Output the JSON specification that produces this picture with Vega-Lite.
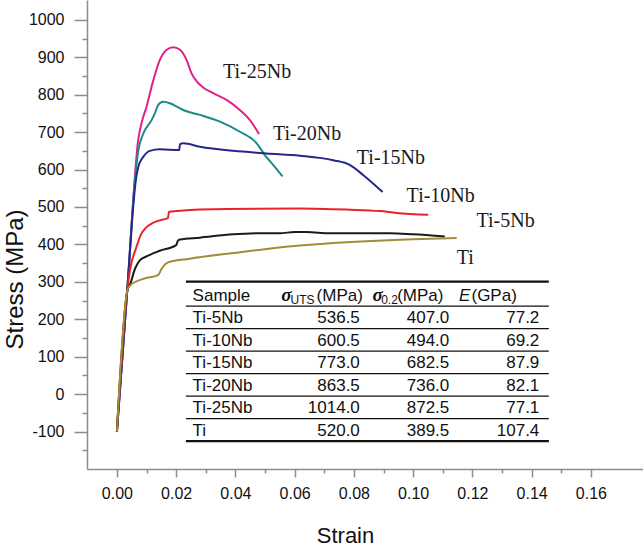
{
  "$schema": "https://vega.github.io/schema/vega-lite/v6.json",
  "width": 556,
  "height": 469,
  "autosize": {"type": "none"},
  "padding": {"left": 87, "top": 0, "right": 0, "bottom": 77},
  "background": "white",
  "config": {"view": {"stroke": null}, "font": "Liberation Sans"},
  "datasets": {
    "curves": [
      {"sample":"Ti-25Nb","strain":0,"stress":-100},{"sample":"Ti-25Nb","strain":0.0036,"stress":290},{"sample":"Ti-25Nb","strain":0.0072,"stress":680},{"sample":"Ti-25Nb","strain":0.0085,"stress":730},{"sample":"Ti-25Nb","strain":0.0100,"stress":768},{"sample":"Ti-25Nb","strain":0.0123,"stress":839},{"sample":"Ti-25Nb","strain":0.0145,"stress":893},{"sample":"Ti-25Nb","strain":0.0168,"stress":920},{"sample":"Ti-25Nb","strain":0.0190,"stress":927},{"sample":"Ti-25Nb","strain":0.0213,"stress":920},{"sample":"Ti-25Nb","strain":0.0235,"stress":893},{"sample":"Ti-25Nb","strain":0.0252,"stress":857},{"sample":"Ti-25Nb","strain":0.0270,"stress":835},{"sample":"Ti-25Nb","strain":0.0290,"stress":820},{"sample":"Ti-25Nb","strain":0.0325,"stress":804},{"sample":"Ti-25Nb","strain":0.0370,"stress":786},{"sample":"Ti-25Nb","strain":0.0415,"stress":759},{"sample":"Ti-25Nb","strain":0.0449,"stress":732},{"sample":"Ti-25Nb","strain":0.0480,"stress":695},
      {"sample":"Ti-20Nb","strain":0,"stress":-100},{"sample":"Ti-20Nb","strain":0.0036,"stress":290},{"sample":"Ti-20Nb","strain":0.0060,"stress":565},{"sample":"Ti-20Nb","strain":0.0072,"stress":650},{"sample":"Ti-20Nb","strain":0.0089,"stress":696},{"sample":"Ti-20Nb","strain":0.0117,"stress":732},{"sample":"Ti-20Nb","strain":0.0128,"stress":750},{"sample":"Ti-20Nb","strain":0.0139,"stress":772},{"sample":"Ti-20Nb","strain":0.0156,"stress":781},{"sample":"Ti-20Nb","strain":0.0179,"stress":777},{"sample":"Ti-20Nb","strain":0.0202,"stress":768},{"sample":"Ti-20Nb","strain":0.0230,"stress":757},{"sample":"Ti-20Nb","strain":0.0280,"stress":746},{"sample":"Ti-20Nb","strain":0.0348,"stress":728},{"sample":"Ti-20Nb","strain":0.0415,"stress":701},{"sample":"Ti-20Nb","strain":0.0472,"stress":670},{"sample":"Ti-20Nb","strain":0.0500,"stress":638},{"sample":"Ti-20Nb","strain":0.0528,"stress":612},{"sample":"Ti-20Nb","strain":0.0559,"stress":582},
      {"sample":"Ti-15Nb","strain":0,"stress":-100},{"sample":"Ti-15Nb","strain":0.0036,"stress":290},{"sample":"Ti-15Nb","strain":0.0055,"stress":500},{"sample":"Ti-15Nb","strain":0.0062,"stress":560},{"sample":"Ti-15Nb","strain":0.0072,"stress":607},{"sample":"Ti-15Nb","strain":0.0089,"stress":634},{"sample":"Ti-15Nb","strain":0.0111,"stress":650},{"sample":"Ti-15Nb","strain":0.0145,"stress":654},{"sample":"Ti-15Nb","strain":0.0210,"stress":652},{"sample":"Ti-15Nb","strain":0.0213,"stress":668},{"sample":"Ti-15Nb","strain":0.0224,"stress":670},{"sample":"Ti-15Nb","strain":0.0280,"stress":661},{"sample":"Ti-15Nb","strain":0.0393,"stress":650},{"sample":"Ti-15Nb","strain":0.0505,"stress":643},{"sample":"Ti-15Nb","strain":0.0618,"stress":637},{"sample":"Ti-15Nb","strain":0.0730,"stress":625},{"sample":"Ti-15Nb","strain":0.0787,"stress":612},{"sample":"Ti-15Nb","strain":0.0832,"stress":585},{"sample":"Ti-15Nb","strain":0.0897,"stress":540},
      {"sample":"Ti-10Nb","strain":0,"stress":-100},{"sample":"Ti-10Nb","strain":0.0036,"stress":285},{"sample":"Ti-10Nb","strain":0.0044,"stress":331},{"sample":"Ti-10Nb","strain":0.0066,"stress":393},{"sample":"Ti-10Nb","strain":0.0080,"stress":425},{"sample":"Ti-10Nb","strain":0.0095,"stress":442},{"sample":"Ti-10Nb","strain":0.0123,"stress":458},{"sample":"Ti-10Nb","strain":0.0168,"stress":469},{"sample":"Ti-10Nb","strain":0.0172,"stress":470},{"sample":"Ti-10Nb","strain":0.0176,"stress":487},{"sample":"Ti-10Nb","strain":0.0202,"stress":489},{"sample":"Ti-10Nb","strain":0.0280,"stress":493},{"sample":"Ti-10Nb","strain":0.0618,"stress":496},{"sample":"Ti-10Nb","strain":0.0775,"stress":493},{"sample":"Ti-10Nb","strain":0.0888,"stress":489},{"sample":"Ti-10Nb","strain":0.0944,"stress":484},{"sample":"Ti-10Nb","strain":0.1051,"stress":479},
      {"sample":"Ti-5Nb","strain":0,"stress":-100},{"sample":"Ti-5Nb","strain":0.0036,"stress":280},{"sample":"Ti-5Nb","strain":0.0044,"stress":292},{"sample":"Ti-5Nb","strain":0.0061,"stress":335},{"sample":"Ti-5Nb","strain":0.0078,"stress":358},{"sample":"Ti-5Nb","strain":0.0100,"stress":368},{"sample":"Ti-5Nb","strain":0.0145,"stress":383},{"sample":"Ti-5Nb","strain":0.0200,"stress":398},{"sample":"Ti-5Nb","strain":0.0206,"stress":410},{"sample":"Ti-5Nb","strain":0.0213,"stress":413},{"sample":"Ti-5Nb","strain":0.0280,"stress":418},{"sample":"Ti-5Nb","strain":0.0393,"stress":427},{"sample":"Ti-5Nb","strain":0.0505,"stress":430},{"sample":"Ti-5Nb","strain":0.0550,"stress":430},{"sample":"Ti-5Nb","strain":0.0600,"stress":433},{"sample":"Ti-5Nb","strain":0.0640,"stress":433},{"sample":"Ti-5Nb","strain":0.0719,"stress":430},{"sample":"Ti-5Nb","strain":0.0922,"stress":430},{"sample":"Ti-5Nb","strain":0.1000,"stress":427},{"sample":"Ti-5Nb","strain":0.1107,"stress":421},
      {"sample":"Ti","strain":0,"stress":-100},{"sample":"Ti","strain":0.0036,"stress":280},{"sample":"Ti","strain":0.0044,"stress":290},{"sample":"Ti","strain":0.0089,"stress":308},{"sample":"Ti","strain":0.0139,"stress":318},{"sample":"Ti","strain":0.0151,"stress":335},{"sample":"Ti","strain":0.0173,"stress":352},{"sample":"Ti","strain":0.0246,"stress":362},{"sample":"Ti","strain":0.0393,"stress":377},{"sample":"Ti","strain":0.0505,"stress":388},{"sample":"Ti","strain":0.0618,"stress":397},{"sample":"Ti","strain":0.0775,"stress":406},{"sample":"Ti","strain":0.1000,"stress":414},{"sample":"Ti","strain":0.1147,"stress":417}
    ],
    "labels": [
      {"sample":"Ti-25Nb","strain":0.0358,"stress":845},
      {"sample":"Ti-20Nb","strain":0.0527,"stress":678},
      {"sample":"Ti-15Nb","strain":0.0810,"stress":614},
      {"sample":"Ti-10Nb","strain":0.0978,"stress":514},
      {"sample":"Ti-5Nb","strain":0.1214,"stress":446},
      {"sample":"Ti","strain":0.1147,"stress":348}
    ],
    "table": [
      {"Sample":"Ti-5Nb","UTS":536.5,"YS":407.0,"E":77.2},
      {"Sample":"Ti-10Nb","UTS":600.5,"YS":494.0,"E":69.2},
      {"Sample":"Ti-15Nb","UTS":773.0,"YS":682.5,"E":87.9},
      {"Sample":"Ti-20Nb","UTS":863.5,"YS":736.0,"E":82.1},
      {"Sample":"Ti-25Nb","UTS":1014.0,"YS":872.5,"E":77.1},
      {"Sample":"Ti","UTS":520.0,"YS":389.5,"E":107.4}
    ]
  },
  "layer": [
    {
      "encoding": {
        "x": {
          "field": "strain", "type": "quantitative",
          "scale": {"domain": [-0.0101, 0.1776], "nice": false, "zero": false},
          "axis": {
            "values": [0,0.01,0.02,0.03,0.04,0.05,0.06,0.07,0.08,0.09,0.1,0.11,0.12,0.13,0.14,0.15,0.16],
            "format": ".2f",
            "labelExpr": "round(datum.value*100) % 2 === 0 ? datum.label : ''",
            "tickSize": {"condition": {"test": "round(datum.value*100) % 2 === 0", "value": 8}, "value": 4},
            "grid": false,
            "domainColor": "#8c8c8c", "tickColor": "#8c8c8c", "domainWidth": 1.5, "tickWidth": 1.5,
            "labelFont": "Liberation Sans", "labelFontSize": 16, "labelColor": "#111", "labelPadding": 8,
            "title": "Strain", "titleFont": "Liberation Sans", "titleFontSize": 22, "titleFontWeight": "normal", "titleColor": "#111",
            "titleX": 258, "titleY": 73, "titleBaseline": "alphabetic", "titleAlign": "center"
          }
        },
        "y": {
          "field": "stress", "type": "quantitative",
          "scale": {"domain": [-200, 1053], "nice": false, "zero": false},
          "axis": {
            "values": [-150,-100,-50,0,50,100,150,200,250,300,350,400,450,500,550,600,650,700,750,800,850,900,950,1000],
            "labelExpr": "datum.value % 100 === 0 ? toString(datum.value) : ''",
            "tickSize": {"condition": {"test": "datum.value % 100 === 0", "value": 13}, "value": 5},
            "grid": false,
            "domainColor": "#8c8c8c", "tickColor": "#8c8c8c", "domainWidth": 1.5, "tickWidth": 1.5,
            "labelFont": "Liberation Sans", "labelFontSize": 16, "labelColor": "#111", "labelPadding": 10,
            "title": "Stress (MPa)", "titleFont": "Liberation Sans", "titleFontSize": 24, "titleFontWeight": "normal", "titleColor": "#111",
            "titleX": -64.5, "titleY": 279, "titleBaseline": "alphabetic", "titleAlign": "center", "titleAngle": -90
          }
        }
      },
      "layer": [
        {
          "data": {"name": "curves"},
          "mark": {"type": "line", "strokeWidth": 2, "interpolate": "monotone"},
          "encoding": {
            "color": {
              "field": "sample", "type": "nominal", "legend": null,
              "scale": {"domain": ["Ti","Ti-5Nb","Ti-10Nb","Ti-15Nb","Ti-20Nb","Ti-25Nb"], "range": ["#a38b3a","#1a1a1a","#e8242a","#26268c","#1b8a8a","#e0218a"]}
            }
          }
        },
        {
          "data": {"name": "labels"},
          "mark": {"type": "text", "align": "left", "baseline": "alphabetic", "font": "Liberation Serif", "fontSize": 20, "color": "#1a1a1a"},
          "encoding": {"text": {"field": "sample"}}
        }
      ]
    },
    {
      "data": {"name": "table"},
      "encoding": {
        "y": {
          "field": "Sample", "type": "nominal", "axis": null,
          "scale": {"type": "point", "domain": ["Sample","Ti-5Nb","Ti-10Nb","Ti-15Nb","Ti-20Nb","Ti-25Nb","Ti"], "padding": 0, "range": [300.7, 435.7]}
        }
      },
      "layer": [
        {
          "mark": {"type": "rule", "strokeWidth": 1.3, "color": "#111", "yOffset": 5.5},
          "encoding": {"x": {"datum": 0.0233, "type": "quantitative", "axis": null, "scale": {"domain": [-0.0101, 0.1776], "nice": false, "zero": false}}, "x2": {"datum": 0.1458}}
        },
        {
          "data": {"values": [{}]},
          "mark": {"type": "rule", "strokeWidth": 1.3, "color": "#111", "yOffset": 5.5},
          "encoding": {"x": {"datum": 0.0233, "type": "quantitative", "axis": null, "scale": {"domain": [-0.0101, 0.1776], "nice": false, "zero": false}}, "x2": {"datum": 0.1458}, "y": {"datum": "Sample", "type": "nominal"}}
        },
        {
          "data": {"values": [{}]},
          "mark": {"type": "rule", "strokeWidth": 2.2, "color": "#111", "yOffset": -19},
          "encoding": {"x": {"datum": 0.0233, "type": "quantitative", "axis": null, "scale": {"domain": [-0.0101, 0.1776], "nice": false, "zero": false}}, "x2": {"datum": 0.1458}, "y": {"datum": "Sample", "type": "nominal"}}
        },
        {
          "data": {"values": [{}]},
          "mark": {"type": "rule", "strokeWidth": 2.2, "color": "#111", "yOffset": 5.5},
          "encoding": {"x": {"datum": 0.0233, "type": "quantitative", "axis": null, "scale": {"domain": [-0.0101, 0.1776], "nice": false, "zero": false}}, "x2": {"datum": 0.1458}, "y": {"datum": "Ti", "type": "nominal"}}
        },
        {
          "mark": {"type": "text", "align": "left", "baseline": "alphabetic", "font": "Liberation Sans", "fontSize": 17, "color": "#111"},
          "encoding": {"x": {"datum": 0.02555, "type": "quantitative", "axis": null, "scale": {"domain": [-0.0101, 0.1776], "nice": false, "zero": false}}, "text": {"field": "Sample"}}
        },
        {
          "mark": {"type": "text", "align": "right", "baseline": "alphabetic", "font": "Liberation Sans", "fontSize": 17, "color": "#111"},
          "encoding": {"x": {"datum": 0.0820, "type": "quantitative", "axis": null, "scale": {"domain": [-0.0101, 0.1776], "nice": false, "zero": false}}, "text": {"field": "UTS", "format": ".1f"}}
        },
        {
          "mark": {"type": "text", "align": "right", "baseline": "alphabetic", "font": "Liberation Sans", "fontSize": 17, "color": "#111"},
          "encoding": {"x": {"datum": 0.1122, "type": "quantitative", "axis": null, "scale": {"domain": [-0.0101, 0.1776], "nice": false, "zero": false}}, "text": {"field": "YS", "format": ".1f"}}
        },
        {
          "mark": {"type": "text", "align": "right", "baseline": "alphabetic", "font": "Liberation Sans", "fontSize": 17, "color": "#111"},
          "encoding": {"x": {"datum": 0.1426, "type": "quantitative", "axis": null, "scale": {"domain": [-0.0101, 0.1776], "nice": false, "zero": false}}, "text": {"field": "E", "format": ".1f"}}
        },
        {
          "data": {"values": [{}]},
          "mark": {"type": "text", "align": "left", "baseline": "alphabetic", "font": "Liberation Sans", "fontSize": 17, "color": "#111", "text": "Sample"},
          "encoding": {"x": {"datum": 0.02555, "type": "quantitative", "axis": null, "scale": {"domain": [-0.0101, 0.1776], "nice": false, "zero": false}}, "y": {"datum": "Sample", "type": "nominal"}}
        },
        {
          "data": {"values": [{}]},
          "mark": {"type": "text", "align": "left", "baseline": "alphabetic", "font": "Liberation Serif", "fontStyle": "italic", "fontWeight": "bold", "fontSize": 19, "color": "#111", "text": "σ"},
          "encoding": {"x": {"datum": 0.0555, "type": "quantitative", "axis": null, "scale": {"domain": [-0.0101, 0.1776], "nice": false, "zero": false}}, "y": {"datum": "Sample", "type": "nominal"}}
        },
        {
          "data": {"values": [{}]},
          "mark": {"type": "text", "align": "left", "baseline": "alphabetic", "font": "Liberation Serif", "fontStyle": "italic", "fontWeight": "bold", "fontSize": 19, "color": "#111", "text": "σ"},
          "encoding": {"x": {"datum": 0.0863, "type": "quantitative", "axis": null, "scale": {"domain": [-0.0101, 0.1776], "nice": false, "zero": false}}, "y": {"datum": "Sample", "type": "nominal"}}
        },
        {
          "data": {"values": [{}]},
          "mark": {"type": "text", "align": "left", "baseline": "alphabetic", "font": "Liberation Sans", "fontSize": 12, "color": "#111", "dy": 3, "text": "UTS"},
          "encoding": {"x": {"datum": 0.0586, "type": "quantitative", "axis": null, "scale": {"domain": [-0.0101, 0.1776], "nice": false, "zero": false}}, "y": {"datum": "Sample", "type": "nominal"}}
        },
        {
          "data": {"values": [{}]},
          "mark": {"type": "text", "align": "left", "baseline": "alphabetic", "font": "Liberation Sans", "fontSize": 12, "color": "#111", "dy": 3, "text": "0.2"},
          "encoding": {"x": {"datum": 0.0892, "type": "quantitative", "axis": null, "scale": {"domain": [-0.0101, 0.1776], "nice": false, "zero": false}}, "y": {"datum": "Sample", "type": "nominal"}}
        },
        {
          "data": {"values": [{}]},
          "mark": {"type": "text", "align": "left", "baseline": "alphabetic", "font": "Liberation Sans", "fontSize": 17, "color": "#111", "text": "(MPa)"},
          "encoding": {"x": {"datum": 0.0674, "type": "quantitative", "axis": null, "scale": {"domain": [-0.0101, 0.1776], "nice": false, "zero": false}}, "y": {"datum": "Sample", "type": "nominal"}}
        },
        {
          "data": {"values": [{}]},
          "mark": {"type": "text", "align": "left", "baseline": "alphabetic", "font": "Liberation Sans", "fontSize": 17, "color": "#111", "text": "(MPa)"},
          "encoding": {"x": {"datum": 0.0946, "type": "quantitative", "axis": null, "scale": {"domain": [-0.0101, 0.1776], "nice": false, "zero": false}}, "y": {"datum": "Sample", "type": "nominal"}}
        },
        {
          "data": {"values": [{}]},
          "mark": {"type": "text", "align": "left", "baseline": "alphabetic", "font": "Liberation Sans", "fontStyle": "italic", "fontSize": 17, "color": "#111", "text": "E"},
          "encoding": {"x": {"datum": 0.1155, "type": "quantitative", "axis": null, "scale": {"domain": [-0.0101, 0.1776], "nice": false, "zero": false}}, "y": {"datum": "Sample", "type": "nominal"}}
        },
        {
          "data": {"values": [{}]},
          "mark": {"type": "text", "align": "left", "baseline": "alphabetic", "font": "Liberation Sans", "fontSize": 17, "color": "#111", "text": "(GPa)"},
          "encoding": {"x": {"datum": 0.1197, "type": "quantitative", "axis": null, "scale": {"domain": [-0.0101, 0.1776], "nice": false, "zero": false}}, "y": {"datum": "Sample", "type": "nominal"}}
        }
      ]
    }
  ],
  "resolve": {"scale": {"x": "independent", "y": "independent"}}
}
